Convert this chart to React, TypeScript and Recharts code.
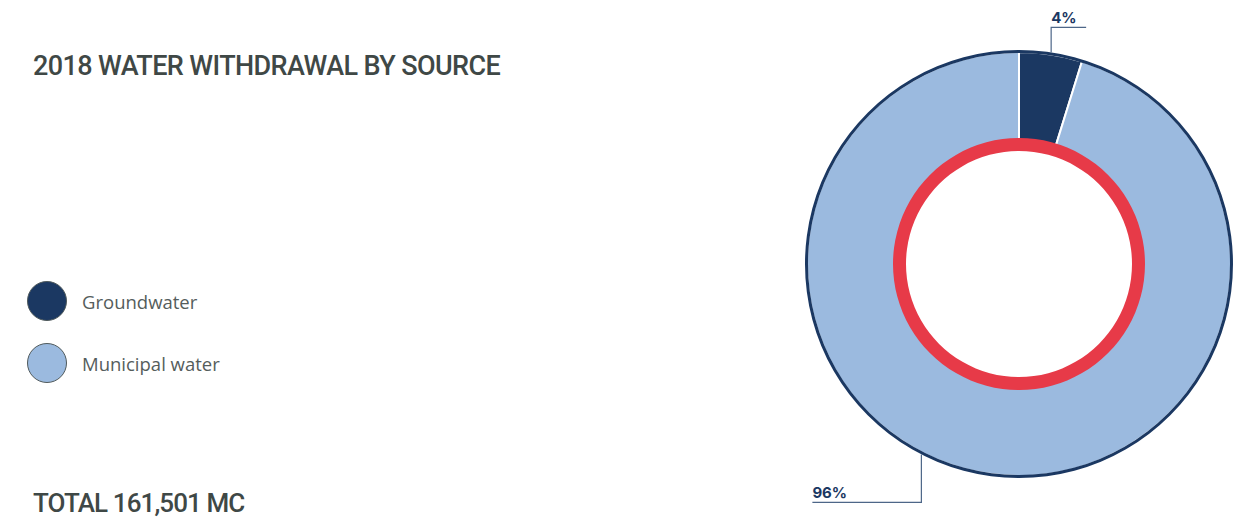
import React from "react";
import { PieChart, Pie, Cell } from "recharts";

const sources = ["Groundwater", "Municipal water"];
const shares = [4.8, 95.2];
const shareLabels = ["4%", "96%"];
const colors = ["#1b3862", "#9bbadf"];

const title = "2018 WATER WITHDRAWAL BY SOURCE";
const total = "TOTAL 161,501 MC";

const data = sources.map((name, i) => ({ name, value: shares[i], label: shareLabels[i] }));
const ring = [{ name: "ring", value: 1 }];

const NAVY = "#1b3862";
const RAD = Math.PI / 180;

const renderLabel = (props: any) => {
    const { cx, cy, outerRadius, midAngle, index } = props;
    const r = outerRadius + 2;
    if (index === 0) {
        const x = cx + r * Math.cos(-midAngle * RAD);
        const y = cy + r * Math.sin(-midAngle * RAD);
        const top = y - 25;
        return (
            <g>
                <polyline points={`${x},${y} ${x},${top} ${x + 35},${top}`} fill="none" stroke="#4d6688" strokeWidth={1.2} />
                <text x={x} y={top - 4} fill={NAVY} fontSize={15} fontWeight={700} fontFamily="Inter, sans-serif">
                    {shareLabels[index]}
                </text>
            </g>
        );
    }
    // municipal label sits off-centre, lower left of the ring
    const a = midAngle - 18.5;
    const x = cx + r * Math.cos(-a * RAD);
    const y = cy + r * Math.sin(-a * RAD);
    const bottom = y + 48;
    return (
        <g>
            <polyline points={`${x},${y} ${x},${bottom} ${x - 109},${bottom}`} fill="none" stroke="#4d6688" strokeWidth={1.2} />
            <text x={x - 109} y={bottom - 4} fill={NAVY} fontSize={15} fontWeight={700} fontFamily="Inter, sans-serif">
                {shareLabels[index]}
            </text>
        </g>
    );
};

const headStyle: React.CSSProperties = {
    position: "absolute",
    left: 33,
    fontFamily: "Roboto, sans-serif",
    fontWeight: 500,
    color: "#3f4846",
    letterSpacing: -0.6,
    whiteSpace: "nowrap",
};

export default function App() {
    return (
        <div style={{ position: "absolute", left: 0, top: 0, width: 1253, height: 520, background: "#fff", overflow: "hidden" }}>
            <div style={{ ...headStyle, top: 50, fontSize: 27 }}>{title}</div>
            <div style={{ ...headStyle, top: 488, fontSize: 26, letterSpacing: -0.9 }}>{total}</div>
            <div style={{ position: "absolute", left: 27, top: 270, fontFamily: "'Open Sans', sans-serif" }}>
                {data.map((d, i) => (
                    <div key={d.name} style={{ display: "flex", alignItems: "center", height: 62 }}>
                        <div
                            style={{
                                width: 40,
                                height: 40,
                                borderRadius: "50%",
                                background: colors[i],
                                border: "1.5px solid #505a5c",
                                boxSizing: "border-box",
                            }}
                        />
                        <span style={{ marginLeft: 15, fontSize: 18.5, color: "#555d5c" }}>{d.name}</span>
                    </div>
                ))}
            </div>
            <div style={{ position: "absolute", left: 0, top: 0 }}>
                <PieChart width={1253} height={520} margin={{ top: 0, right: 0, bottom: 0, left: 0 }}>
                    <Pie
                        data={data}
                        dataKey="value"
                        cx={1019}
                        cy={264}
                        innerRadius={120}
                        outerRadius={212}
                        startAngle={90}
                        endAngle={-270}
                        stroke="#ffffff"
                        strokeWidth={2}
                        label={renderLabel}
                        labelLine={false}
                        isAnimationActive={false}
                    >
                        {data.map((d, i) => (
                            <Cell key={d.name} fill={colors[i]} />
                        ))}
                    </Pie>
                    <Pie
                        data={ring}
                        dataKey="value"
                        cx={1019}
                        cy={264}
                        innerRadius={211}
                        outerRadius={214}
                        startAngle={90}
                        endAngle={-270}
                        fill={NAVY}
                        stroke="none"
                        isAnimationActive={false}
                    />
                    <Pie
                        data={ring}
                        dataKey="value"
                        cx={1019}
                        cy={264}
                        innerRadius={113}
                        outerRadius={126}
                        startAngle={90}
                        endAngle={-270}
                        fill="#e73a48"
                        stroke="none"
                        isAnimationActive={false}
                    />
                </PieChart>
            </div>
        </div>
    );
}
